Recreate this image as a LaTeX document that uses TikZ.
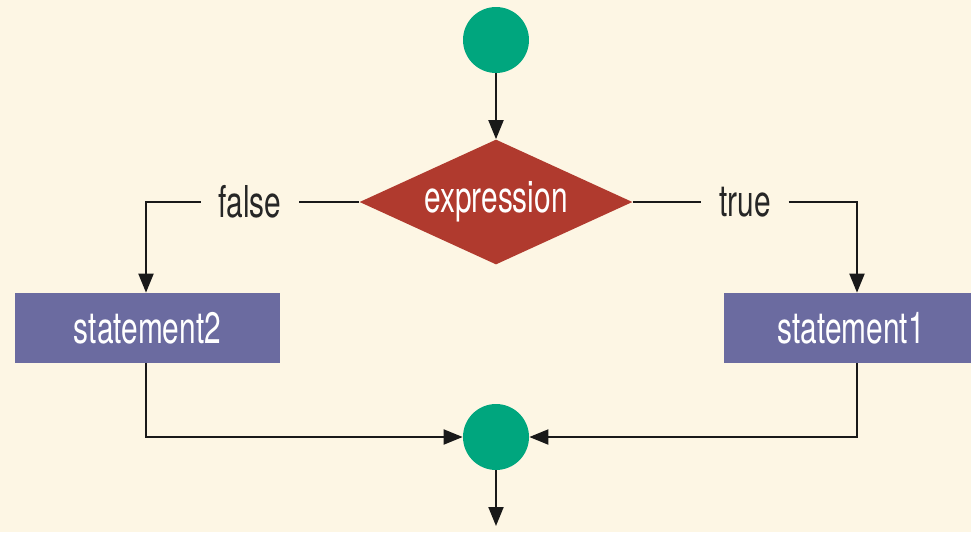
\documentclass[tikz,border=0pt]{standalone}
\usepackage{fontspec}
\setmainfont{TeX Gyre Heros}[FakeStretch=0.68]
\usetikzlibrary{shapes.geometric,arrows.meta}
\definecolor{paper}{RGB}{253,246,228}
\definecolor{joint}{RGB}{0,166,126}
\definecolor{decide}{RGB}{176,58,46}
\definecolor{action}{RGB}{107,107,160}
\begin{document}
\begin{tikzpicture}[x=0.02cm,y=-0.02cm,
  flow/.style={line width=1.1pt,draw=black!90},
  arr/.style={flow,-{Triangle[length=0.38cm,width=0.3cm]}},
  dot/.style={circle,fill=joint,minimum size=1.32cm,inner sep=0pt},
  txt/.style={font=\fontsize{25}{27}\selectfont},
  actbox/.style={rectangle,fill=action,text=white,txt,inner sep=0pt},
  lbl/.style={text=black!85,txt,inner sep=0pt}]
  % canvas
  \fill[paper] (0,0) rectangle (971,532);
  \useasboundingbox (0,0) rectangle (971,532);
  % start and join points
  \node[dot] (start) at (496,40) {};
  \node[dot] (join) at (496,437) {};
  % decision
  \node[diamond,fill=decide,text=white,txt,
        minimum width=5.46cm,minimum height=2.5cm,inner sep=0pt,aspect=2.2] (expr) at (496,202) {expression};
  % branches
  \node[actbox,minimum width=5.3cm,minimum height=1.4cm] (s2) at (147.5,328) {statement2};
  \node[actbox,minimum width=4.94cm,minimum height=1.4cm] (s1) at (847.5,328) {\hspace*{0.15cm}statement1};
  % branch labels
  \node[lbl] (f) at (250,202) {false};
  \node[lbl] (t) at (745,202) {true};
  \coordinate (fl) at (146,202);
  \coordinate (tr) at (857,202);
  \coordinate (bl) at (146,437);
  \coordinate (br) at (857,437);
  \coordinate (out) at (496,526);
  % connectors
  \draw[arr] (start) -- (expr.north);
  \draw[flow] (expr.west) -- ([xshift=10]f.east);
  \draw[arr] ([xshift=-10]f.west) -- (fl) -- (s2.north -| fl);
  \draw[flow] (expr.east) -- ([xshift=-10]t.west);
  \draw[arr] ([xshift=10]t.east) -- (tr) -- (s1.north -| tr);
  \draw[arr] (s2.south -| bl) -- (bl) -- (join.west);
  \draw[arr] (s1.south -| br) -- (br) -- (join.east);
  \draw[arr] (join) -- (out);
\end{tikzpicture}
\end{document}
